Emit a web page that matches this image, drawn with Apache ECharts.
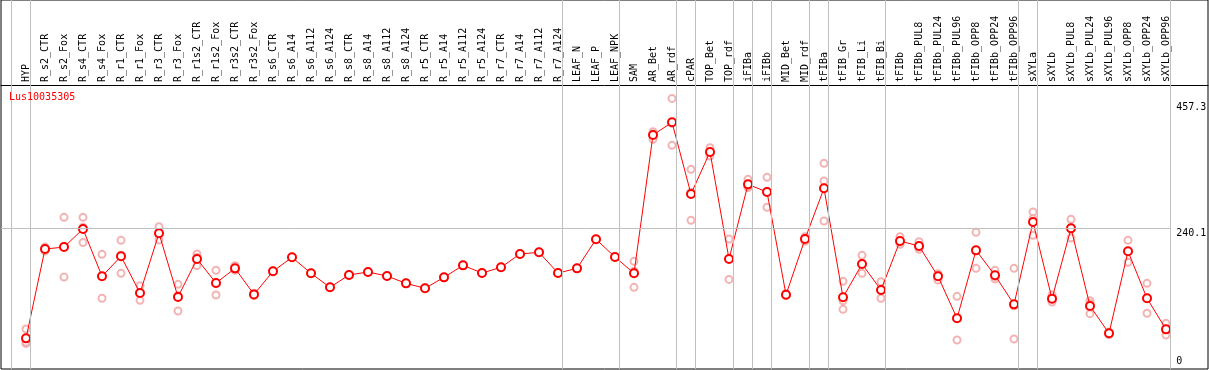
<!DOCTYPE html>
<html><head><meta charset="utf-8">
<script src="https://cdn.jsdelivr.net/npm/echarts@6/dist/echarts.min.js"></script>
<style>html,body{margin:0;padding:0;background:#fff}#c{width:1209px;height:370px}</style>
</head><body><div id="c"></div>
<script>
const geneName = 'Lus10035305';
const categories = ['HYP','R_s2_CTR','R_s2_Fox','R_s4_CTR','R_s4_Fox','R_r1_CTR','R_r1_Fox','R_r3_CTR','R_r3_Fox','R_r1s2_CTR','R_r1s2_Fox','R_r3s2_CTR','R_r3s2_Fox','R_s6_CTR','R_s6_A14','R_s6_A112','R_s6_A124','R_s8_CTR','R_s8_A14','R_s8_A112','R_s8_A124','R_r5_CTR','R_r5_A14','R_r5_A112','R_r5_A124','R_r7_CTR','R_r7_A14','R_r7_A112','R_r7_A124','LEAF_N','LEAF_P','LEAF_NPK','SAM','AR_Bet','AR_rdf','cPAR','TOP_Bet','TOP_rdf','iFIBa','iFIBb','MID_Bet','MID_rdf','tFIBa','tFIB_Gr','tFIB_Li','tFIB_Bi','tFIBb','tFIBb_PUL8','tFIBb_PUL24','tFIBb_PUL96','tFIBb_OPP8','tFIBb_OPP24','tFIBb_OPP96','sXYLa','sXYLb','sXYLb_PUL8','sXYLb_PUL24','sXYLb_PUL96','sXYLb_OPP8','sXYLb_OPP24','sXYLb_OPP96'];
const meanValues = [48.8,203.6,207,238.3,156.3,191,127.4,230.8,120.5,186.3,144.7,170.1,125,165,189.2,161.5,137.2,158.6,163.8,156.8,144.1,135.5,154.5,175.3,162,171.9,195,197.9,162,170.1,220.4,189.8,161.5,401.2,423.2,299,371.8,186.3,315.7,302.4,124.5,221,308.8,119.9,177.6,132.6,217.5,208.8,156.3,83.5,201.3,158,107.7,250.4,117.6,239.4,104.9,57.5,199.6,118.2,64.4];
const rep1 = [65,207,258.5,258.5,194.4,218.7,140,242.3,142.4,195,166.7,174.8,125,165,189.2,161.5,137.2,158.6,163.8,156.8,144.1,135.5,154.5,175.3,162,171.9,195,197.9,162,170.1,220.4,189.8,182.3,407,464.7,341.7,379.3,221,324.4,327.8,125,225,352.1,147.6,192.7,147,225,216.3,160.9,121.6,232.5,166.7,170.1,267.8,123.9,255,114,60,218.7,144.1,74.8];
const rep2 = [40,200,155,215,118.2,161.5,114.7,219.2,96.2,174.8,123.9,166.7,123,165,189.2,161.5,137.2,158.6,163.8,156.8,144.1,135.5,154.5,175.3,162,171.9,195,197.9,162,170.1,220.4,189.8,137.2,393.7,383.3,253.3,364.8,151,310,275.8,123,221,321.5,99.1,161.5,118.2,211.7,203,149.9,45.9,170.1,151.6,47.7,227.3,111.8,222.7,91.6,55,180.6,92.2,54.6];
const rep3 = [42,204,207.5,241.5,156.3,192.8,127.5,231,123,189,143.5,169,127,165,189.2,161.5,137.2,158.6,163.8,156.8,144.1,135.5,154.5,175.3,162,171.9,195,197.9,162,170.1,220.4,189.8,165,403,421.6,302,371,187,312.7,303.6,126,217,252.2,114,178.6,132.6,216,207,158,83,201.3,155.7,105.3,256,117,240.5,109,57.5,199.5,118.3,63.8];
const yTickValues = [0, 240.1, 457.3];
const yTickLabels = ['0', '240.1', '457.3'];
const refLineValue = 240.1;
const groupBreaksAfter = [-1,0,28,31,34,35,37,38,39,41,42,45,52,53,60];

const FONT = 'DejaVu Sans Mono';
const X0 = -1.3158, X1 = 62.21;
const breakOffset = 0.22;
const lineEnd = categories.length - 1 + breakOffset;

const chart = echarts.init(document.getElementById('c'), null, {renderer: 'canvas'});

const meanData = meanValues.map((v, i) => [i, v]);
const repData = [];
[rep1, rep2, rep3].forEach(r => r.forEach((v, i) => repData.push([i, v])));

const vLines = groupBreaksAfter.map(b => ({xAxis: b + breakOffset}));
const hLines = yTickValues.map((v, k) => [
  {coord: [X0, v],
   lineStyle: {color: v === refLineValue ? '#c0c0c0' : 'rgba(0,0,0,0)', width: 1, type: 'solid'},
   label: {show: true, position: 'end', distance: 6, formatter: yTickLabels[k], color: '#000',
           fontFamily: FONT, fontSize: 10, verticalAlign: v === 0 ? 'bottom' : 'top'}},
  {coord: [lineEnd, v]}
]);

const option = {
  animation: false,
  title: {text: geneName, left: 9, top: 92, padding: 0,
          textStyle: {color: '#ff0000', fontSize: 10, fontFamily: FONT, fontWeight: 'normal'}},
  grid: {left: 1, right: 1, top: 0, bottom: 1, show: true, borderColor: '#000', borderWidth: 1},
  xAxis: {
    type: 'value', position: 'top', offset: -85, min: X0, max: X1,
    axisLine: {show: true, onZero: false, lineStyle: {color: '#000', width: 1}},
    axisTick: {show: false}, splitLine: {show: false},
    axisLabel: {customValues: categories.map((_, i) => i), formatter: v => categories[Math.round(v)] || '',
                rotate: -90, margin: 3, fontSize: 10, fontFamily: FONT, color: '#000'}
  },
  yAxis: {type: 'value', min: -4.33, max: 635.2, show: false},
  series: [
    {type: 'line', data: [], z: 1, silent: true,
     markLine: {silent: true, symbol: ['none', 'none'], animation: false,
                label: {show: false},
                lineStyle: {color: '#c0c0c0', width: 1, type: 'solid'},
                data: vLines.concat(hLines)}},
    {type: 'scatter', data: repData, z: 2, symbol: 'emptyCircle', symbolSize: 7,
     itemStyle: {color: '#f0a0a0', borderColor: '#f0a0a0', borderWidth: 1.2}},
    {type: 'line', data: meanData, z: 3, symbol: 'emptyCircle', symbolSize: 8,
     lineStyle: {color: '#ff0000', width: 1},
     itemStyle: {color: '#ff0000', borderColor: '#e00000', borderWidth: 1.6}}
  ]
};
chart.setOption(option);
</script></body></html>
